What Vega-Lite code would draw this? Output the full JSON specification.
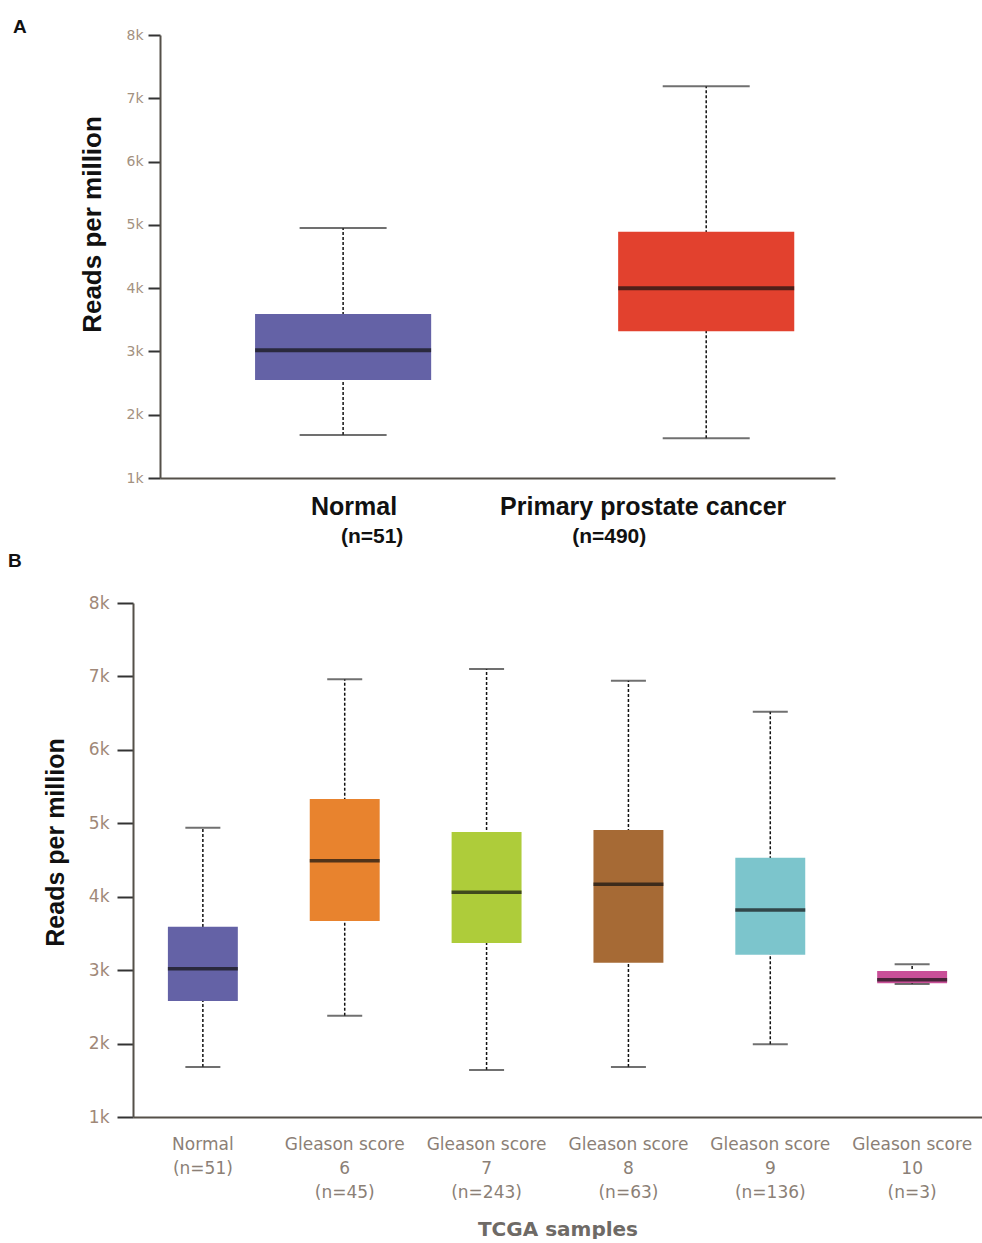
{
  "$schema": "https://vega.github.io/schema/vega-lite/v6.json",
  "padding": {"left": 8, "top": 18, "right": 0, "bottom": 0},
  "background": "white",
  "spacing": 6,
  "resolve": {"scale": {"color": "independent"}},
  "config": {"view": {"stroke": null}, "axis": {"grid": false}},
  "datasets": {
    "a": [
      {"group": "Normal|(n=51)", "lower": 1680, "q1": 2550, "median": 3020, "q3": 3590, "upper": 4950},
      {"group": "Primary prostate cancer|(n=490)", "lower": 1630, "q1": 3320, "median": 4000, "q3": 4890, "upper": 7190}
    ],
    "b": [
      {"group": "Normal|(n=51)", "lower": 1680, "q1": 2580, "median": 3020, "q3": 3590, "upper": 4940},
      {"group": "Gleason score|6|(n=45)", "lower": 2380, "q1": 3670, "median": 4490, "q3": 5330, "upper": 6960},
      {"group": "Gleason score|7|(n=243)", "lower": 1640, "q1": 3370, "median": 4060, "q3": 4880, "upper": 7100},
      {"group": "Gleason score|8|(n=63)", "lower": 1680, "q1": 3100, "median": 4170, "q3": 4910, "upper": 6940},
      {"group": "Gleason score|9|(n=136)", "lower": 1990, "q1": 3210, "median": 3820, "q3": 4530, "upper": 6520},
      {"group": "Gleason score|10|(n=3)", "lower": 2810, "q1": 2820, "median": 2870, "q3": 2990, "upper": 3080}
    ]
  },
  "vconcat": [
    {
      "width": 702,
      "height": 443,
      "data": {"name": "a"},
      "title": {"text": "A", "anchor": "start", "frame": "group", "dx": -120, "offset": -9, "fontSize": 19, "font": "Liberation Sans", "fontWeight": "bold", "color": "#111111"},
      "resolve": {"axis": {"x": "independent"}},
      "layer": [
        {
          "mark": {"type": "rule", "strokeDash": [3, 2], "color": "#111111", "strokeWidth": 1.5},
          "encoding": {
            "x": {"field": "group", "type": "nominal", "sort": null,
              "scale": {"range": [27, 702], "paddingInner": 0.515, "paddingOuter": 0.187, "align": 0.7},
              "axis": {"orient": "bottom", "title": null, "labelAngle": 0, "ticks": false, "tickSize": 0, "domainColor": "#555049", "domainWidth": 2,
                "labelExpr": "split(datum.value, '|')[0]", "labelFont": "Liberation Sans", "labelFontWeight": "bold", "labelFontSize": 25, "labelColor": "#111111", "labelPadding": 16, "labelLimit": 400,
                "labelOffset": {"condition": {"test": "indexof(datum.value, 'Normal') == 0", "value": 11}, "value": -63}}},
            "y": {"field": "lower", "type": "quantitative", "title": "Reads per million",
              "scale": {"domain": [1000, 8000], "nice": false, "zero": false},
              "axis": {"values": [1000, 2000, 3000, 4000, 5000, 6000, 7000, 8000], "labelExpr": "(datum.value / 1000) + 'k'", "offset": -27,
                "domainColor": "#555049", "domainWidth": 2, "tickColor": "#333333", "tickWidth": 2, "tickSize": 12, "labelPadding": 5,
                "labelFont": "DejaVu Sans", "labelFontSize": 14, "labelColor": "#a3917f",
                "titleFont": "Liberation Sans", "titleFontSize": 26, "titleFontWeight": "bold", "titleColor": "#111111", "titlePadding": 20, "titleY": 189}},
            "y2": {"field": "upper"}
          }
        },
        {
          "mark": {"type": "bar"},
          "encoding": {
            "x": {"field": "group", "type": "nominal", "sort": null,
              "scale": {"range": [27, 702], "paddingInner": 0.515, "paddingOuter": 0.187, "align": 0.7},
              "axis": {"orient": "bottom", "title": null, "labelAngle": 0, "ticks": false, "tickSize": 0, "domain": false,
                "labelExpr": "split(datum.value, '|')[1]", "labelFont": "Liberation Sans", "labelFontWeight": "bold", "labelFontSize": 21, "labelColor": "#111111", "labelPadding": 47,
                "labelOffset": {"condition": {"test": "indexof(datum.value, 'Normal') == 0", "value": 29}, "value": -97}}},
            "y": {"field": "q1", "type": "quantitative", "title": "Reads per million", "scale": {"domain": [1000, 8000], "nice": false, "zero": false}},
            "y2": {"field": "q3"},
            "color": {"field": "group", "type": "nominal", "legend": null,
              "scale": {"domain": ["Normal|(n=51)", "Primary prostate cancer|(n=490)"], "range": ["#6462a6", "#e2412e"]}}
          }
        },
        {
          "mark": {"type": "tick", "size": 176, "thickness": 4, "color": "#111111"},
          "encoding": {
            "x": {"field": "group", "type": "nominal", "sort": null, "axis": null,
              "scale": {"range": [27, 702], "paddingInner": 0.515, "paddingOuter": 0.187, "align": 0.7}},
            "y": {"field": "median", "type": "quantitative", "title": "Reads per million", "scale": {"domain": [1000, 8000], "nice": false, "zero": false}}
          }
        },
        {
          "mark": {"type": "tick", "size": 87, "thickness": 2, "color": "#333333"},
          "encoding": {
            "x": {"field": "group", "type": "nominal", "sort": null, "axis": null,
              "scale": {"range": [27, 702], "paddingInner": 0.515, "paddingOuter": 0.187, "align": 0.7}},
            "y": {"field": "upper", "type": "quantitative", "title": "Reads per million", "scale": {"domain": [1000, 8000], "nice": false, "zero": false}}
          }
        },
        {
          "mark": {"type": "tick", "size": 87, "thickness": 2, "color": "#333333"},
          "encoding": {
            "x": {"field": "group", "type": "nominal", "sort": null, "axis": null,
              "scale": {"range": [27, 702], "paddingInner": 0.515, "paddingOuter": 0.187, "align": 0.7}},
            "y": {"field": "lower", "type": "quantitative", "title": "Reads per million", "scale": {"domain": [1000, 8000], "nice": false, "zero": false}}
          }
        }
      ]
    },
    {
      "width": 849,
      "height": 514,
      "data": {"name": "b"},
      "title": {"text": "B", "anchor": "start", "frame": "group", "dx": -125, "offset": 23, "fontSize": 19, "font": "Liberation Sans", "fontWeight": "bold", "color": "#111111"},
      "layer": [
        {
          "mark": {"type": "rule", "strokeDash": [3, 2], "color": "#111111", "strokeWidth": 1.5},
          "encoding": {
            "x": {"field": "group", "type": "nominal", "sort": null,
              "scale": {"paddingInner": 0.507, "paddingOuter": 0.246},
              "axis": {"title": "TCGA samples", "labelAngle": 0, "ticks": false, "tickSize": 0, "domainColor": "#555049", "domainWidth": 2,
                "labelExpr": "split(datum.value, '|')", "labelFont": "DejaVu Sans", "labelFontSize": 17, "labelColor": "#8b7f76", "labelPadding": 19, "labelLineHeight": 24, "labelLimit": 300,
                "titleFont": "DejaVu Sans", "titleFontSize": 20, "titleFontWeight": "bold", "titleColor": "#6e6a66", "titlePadding": 19}},
            "y": {"field": "lower", "type": "quantitative", "title": "Reads per million",
              "scale": {"domain": [1000, 8000], "nice": false, "zero": false},
              "axis": {"values": [1000, 2000, 3000, 4000, 5000, 6000, 7000, 8000], "labelExpr": "(datum.value / 1000) + 'k'",
                "domainColor": "#555049", "domainWidth": 2, "tickColor": "#333333", "tickWidth": 2, "tickSize": 16, "labelPadding": 8,
                "labelFont": "DejaVu Sans", "labelFontSize": 17, "labelColor": "#a08878",
                "titleFont": "Liberation Sans", "titleFontSize": 25, "titleFontWeight": "bold", "titleColor": "#111111", "titlePadding": 20, "titleY": 239}},
            "y2": {"field": "upper"}
          }
        },
        {
          "mark": {"type": "bar"},
          "encoding": {
            "x": {"field": "group", "type": "nominal", "sort": null, "scale": {"paddingInner": 0.507, "paddingOuter": 0.246}},
            "y": {"field": "q1", "type": "quantitative", "title": "Reads per million", "scale": {"domain": [1000, 8000], "nice": false, "zero": false}},
            "y2": {"field": "q3"},
            "color": {"field": "group", "type": "nominal", "legend": null,
              "scale": {"domain": ["Normal|(n=51)", "Gleason score|6|(n=45)", "Gleason score|7|(n=243)", "Gleason score|8|(n=63)", "Gleason score|9|(n=136)", "Gleason score|10|(n=3)"],
                "range": ["#6462a6", "#e8832e", "#aecc3a", "#a66a35", "#7cc5cc", "#c94f98"]}}
          }
        },
        {
          "mark": {"type": "tick", "size": 70, "thickness": 3.5, "color": "#111111"},
          "encoding": {
            "x": {"field": "group", "type": "nominal", "sort": null, "scale": {"paddingInner": 0.507, "paddingOuter": 0.246}},
            "y": {"field": "median", "type": "quantitative", "title": "Reads per million", "scale": {"domain": [1000, 8000], "nice": false, "zero": false}}
          }
        },
        {
          "mark": {"type": "tick", "size": 35, "thickness": 2, "color": "#333333"},
          "encoding": {
            "x": {"field": "group", "type": "nominal", "sort": null, "scale": {"paddingInner": 0.507, "paddingOuter": 0.246}},
            "y": {"field": "upper", "type": "quantitative", "title": "Reads per million", "scale": {"domain": [1000, 8000], "nice": false, "zero": false}}
          }
        },
        {
          "mark": {"type": "tick", "size": 35, "thickness": 2, "color": "#333333"},
          "encoding": {
            "x": {"field": "group", "type": "nominal", "sort": null, "scale": {"paddingInner": 0.507, "paddingOuter": 0.246}},
            "y": {"field": "lower", "type": "quantitative", "title": "Reads per million", "scale": {"domain": [1000, 8000], "nice": false, "zero": false}}
          }
        }
      ]
    }
  ]
}
